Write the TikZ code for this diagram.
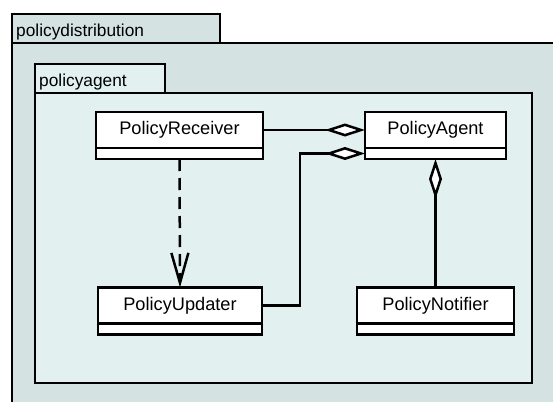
\documentclass[tikz,border=0pt]{standalone}
\usepackage{fontspec}
\setmainfont{Liberation Sans}
\usetikzlibrary{arrows.meta}
\usetikzlibrary{positioning}
\definecolor{pkgouter}{RGB}{213,226,226}
\definecolor{pkginner}{RGB}{226,240,240}
\tikzset{
pkg/.style={draw=black,line width=2.5pt},
pkglabel/.style={anchor=base west,inner sep=0pt,font=\fontsize{17.3}{20}\selectfont},
cls/.style={draw=black,fill=white,line width=2.5pt,inner sep=0pt,outer sep=0pt,minimum height=36pt,font=\fontsize{18.2}{21}\selectfont},
compart/.style={draw=black,fill=white,line width=2.5pt,inner sep=0pt,outer sep=0pt,minimum height=11pt,anchor=north},
aggr/.style={line width=2.5pt,-{Diamond[length=40pt,width=13pt,fill=white]}},
dep/.style={line width=2.5pt,dash pattern=on 12pt off 7pt,-{Straight Barb[length=30pt,width=17pt]}}
}

\begin{document}
\begin{tikzpicture}[x=1pt,y=-1pt]

\clip (0,0) rectangle (553,401);
\fill[white] (0,0) rectangle (553,401);

% packages
\draw[pkg,fill=pkgouter] (12,14) rectangle (220,43);
\draw[pkg,fill=pkgouter] (12,43) rectangle (570,420);
\node[pkglabel] (distlabel) at (16,37) {policydistribution};
\draw[pkg,fill=pkginner] (35,64) rectangle (165,93);
\draw[pkg,fill=pkginner] (35,93) rectangle (532,383);
\node[pkglabel] (agentlabel) at (39,87) {policyagent};

% classes
\node[cls,minimum width=167pt] (rec) at (179.5,130) {PolicyReceiver};
\node[cls,minimum width=141pt] (agt) at (435.5,130) {PolicyAgent};
\node[cls,minimum width=164pt] (upd) at (180,305.5) {PolicyUpdater};
\node[cls,minimum width=157pt] (ntf) at (435.5,305.5) {PolicyNotifier};
\foreach \c/\w in {rec/167, agt/141, upd/164, ntf/157}
  {
  \node[compart,minimum width=\w pt] (\c b) at (\c.south) {};
  }

% relations
\draw[aggr] (rec.east) -- (agt.west);
\draw[aggr] (upd.east) -- ++(38,0) |- (agtb.west);
\draw[aggr] (ntf.north) -- (agtb.south);
\draw[dep] (recb.south) -- (upd.north);

\end{tikzpicture}
\end{document}
